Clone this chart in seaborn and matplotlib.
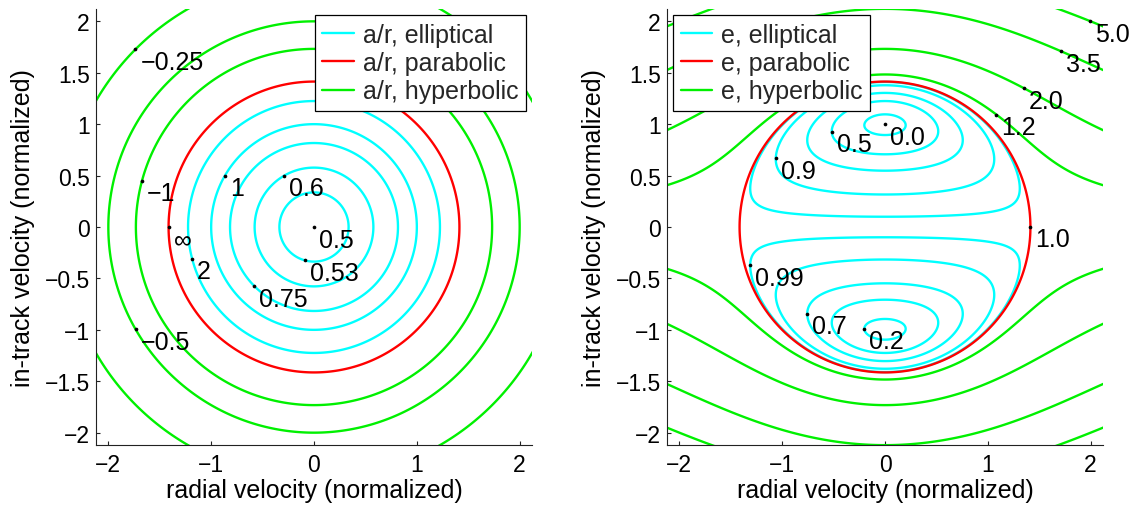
import numpy as np
import matplotlib
matplotlib.use("Agg")
import matplotlib.pyplot as plt
from matplotlib.lines import Line2D
from matplotlib.ticker import FuncFormatter
import seaborn as sns

# ---- contour levels ----------------------------------------------------
# semi-major axis over radius, a/r
ar_elliptical = [0.5, 0.53, 0.6, 0.75, 1.0, 2.0]
ar_parabolic = [np.inf]
ar_hyperbolic = [-1.0, -0.5, -0.25]

# eccentricity, e
e_elliptical = [0.0, 0.2, 0.5, 0.7, 0.9, 0.99]
e_parabolic = [1.0]
e_hyperbolic = [1.2, 2.0, 3.5, 5.0]

# ---- labelled contour points ----------------------------------------------
ar_label_text = ["0.5", "0.53", "0.6", "0.75", "1", "2", "\u221e", "\u22121", "\u22120.5", "\u22120.25"]
ar_label_level = [0.5, 0.53, 0.6, 0.75, 1.0, 2.0, np.inf, -1.0, -0.5, -0.25]
ar_label_x = [0.0, -0.08, -0.29, -0.58, -0.87, -1.19, -1.42, -1.68, -1.74, -1.74]
ar_label_y = [0.0, -0.30, 0.50, -0.57, 0.50, -0.31, 0.0, 0.45, -1.0, 1.73]

e_label_text = ["0.0", "0.2", "0.5", "0.7", "0.9", "0.99", "1.0", "1.2", "2.0", "3.5", "5.0"]
e_label_level = [0.0, 0.2, 0.5, 0.7, 0.9, 0.99, 1.0, 1.2, 2.0, 3.5, 5.0]
e_label_x = [0.0, -0.21, -0.52, -0.76, -1.07, -1.32, 1.42, 1.08, 1.35, 1.71, 2.0]
e_label_y = [1.0, -0.99, 0.93, -0.84, 0.67, -0.37, 0.0, 1.09, 1.35, 1.71, 2.0]

x_ticks = [-2, -1, 0, 1, 2]
y_ticks = [-2, -1.5, -1, -0.5, 0, 0.5, 1, 1.5, 2]

CYAN, RED, GREEN = "#00ffff", "#ff0000", "#00f000"
LW = 1.7

sns.set_theme(style="ticks")
plt.rcParams["font.family"] = ["Liberation Sans", "DejaVu Sans"]
plt.rcParams["axes.unicode_minus"] = True
plt.rcParams["contour.negative_linestyle"] = "solid"

# velocity grid (normalised by circular speed at r = 1); even point count
# keeps the in-track velocity off exactly zero
vr = np.linspace(-2.3, 2.3, 900)
vt = np.linspace(-2.3, 2.3, 900)
VR, VT = np.meshgrid(vr, vt)
V2 = VR ** 2 + VT ** 2

# r/a = 2 - v^2 (vis-viva), so a/r contours are r/a contours at 1/level
r_over_a = 2.0 - V2
# eccentricity vector for r = (1, 0): e = (vt^2 - 1, -vr*vt)
ecc = np.sqrt((VT ** 2 - 1.0) ** 2 + (VR * VT) ** 2)

fig = plt.figure(figsize=(11.35, 5.06), dpi=100)
W, H = 1135.0, 506.0
ax1 = fig.add_axes([96 / W, 60 / H, 436 / W, 436 / H])
ax2 = fig.add_axes([667 / W, 60 / H, 436 / W, 436 / H])


def minus_fmt(v, _pos):
    return ("%g" % v).replace("-", "\u2212")


def draw_set(ax, field, levels, color, transform=None):
    lv = [transform(l) for l in levels] if transform else list(levels)
    order = np.argsort(lv)
    lv_sorted = [lv[i] for i in order]
    cs = ax.contour(VR, VT, field, levels=lv_sorted, colors=[color],
                    linewidths=LW, linestyles="solid")
    segs = {}
    for i, k in enumerate(order):
        segs[levels[k]] = cs.allsegs[i]
    return segs


def put_labels(ax, seg_map, texts, levels, xs, ys):
    px, py = [], []
    for t, lev, gx, gy in zip(texts, levels, xs, ys):
        pts = seg_map.get(lev, [])
        pts = [p for p in pts if len(p)]
        if pts:
            allp = np.vstack(pts)
            d = (allp[:, 0] - gx) ** 2 + (allp[:, 1] - gy) ** 2
            x0, y0 = allp[np.argmin(d)]
        else:
            x0, y0 = gx, gy
        px.append(x0)
        py.append(y0)
        ax.annotate(t, (x0, y0), xytext=(5, -19.5), textcoords="offset pixels",
                    ha="left", va="baseline", fontsize=18, color="black",
                    zorder=6, annotation_clip=False)
    sns.scatterplot(x=px, y=py, ax=ax, color="black", s=7, linewidth=0,
                    zorder=7, legend=False)


inv = lambda a: 0.0 if np.isinf(a) else 1.0 / a

seg_ar = {}
seg_ar.update(draw_set(ax1, r_over_a, ar_elliptical, CYAN, inv))
seg_ar.update(draw_set(ax1, r_over_a, ar_parabolic, RED, inv))
seg_ar.update(draw_set(ax1, r_over_a, ar_hyperbolic, GREEN, inv))
put_labels(ax1, seg_ar, ar_label_text, ar_label_level, ar_label_x, ar_label_y)

seg_e = {}
seg_e.update(draw_set(ax2, ecc, e_elliptical, CYAN))
seg_e.update(draw_set(ax2, ecc, e_parabolic, RED))
seg_e.update(draw_set(ax2, ecc, e_hyperbolic, GREEN))
put_labels(ax2, seg_e, e_label_text, e_label_level, e_label_x, e_label_y)

for ax, name, loc in [(ax1, "a/r", "upper right"), (ax2, "e", "upper left")]:
    ax.set_xlim(-2.12, 2.12)
    ax.set_ylim(-2.12, 2.12)
    ax.set_xticks(x_ticks)
    ax.set_yticks(y_ticks)
    ax.xaxis.set_major_formatter(FuncFormatter(minus_fmt))
    ax.yaxis.set_major_formatter(FuncFormatter(minus_fmt))
    ax.tick_params(direction="in", length=3.2, width=0.8, colors="#222222",
                   labelsize=16.5, labelcolor="black")
    ax.tick_params(axis="x", pad=5.5)
    ax.tick_params(axis="y", pad=4.5)
    sns.despine(ax=ax)
    for s in ("left", "bottom"):
        ax.spines[s].set_color("#222222")
        ax.spines[s].set_linewidth(0.8)
    ax.set_xlabel("radial velocity (normalized)", fontsize=18, labelpad=2, color="black")
    ax.set_ylabel("in-track velocity (normalized)", fontsize=18, labelpad=7, color="black")
    ax.set_facecolor("white")
    handles = [Line2D([], [], color=CYAN, lw=LW),
               Line2D([], [], color=RED, lw=LW),
               Line2D([], [], color=GREEN, lw=LW)]
    labels = [f"{name}, elliptical", f"{name}, parabolic", f"{name}, hyperbolic"]
    leg = ax.legend(handles, labels, loc=loc, fontsize=18, frameon=True,
                    fancybox=False, framealpha=1, edgecolor="black",
                    borderpad=0.3, labelspacing=0.18, handlelength=1.27,
                    handletextpad=0.35, borderaxespad=0.24)
    leg.get_frame().set_linewidth(0.9)
    leg.set_zorder(10)

fig.savefig("out.png", dpi=100, facecolor="white")
